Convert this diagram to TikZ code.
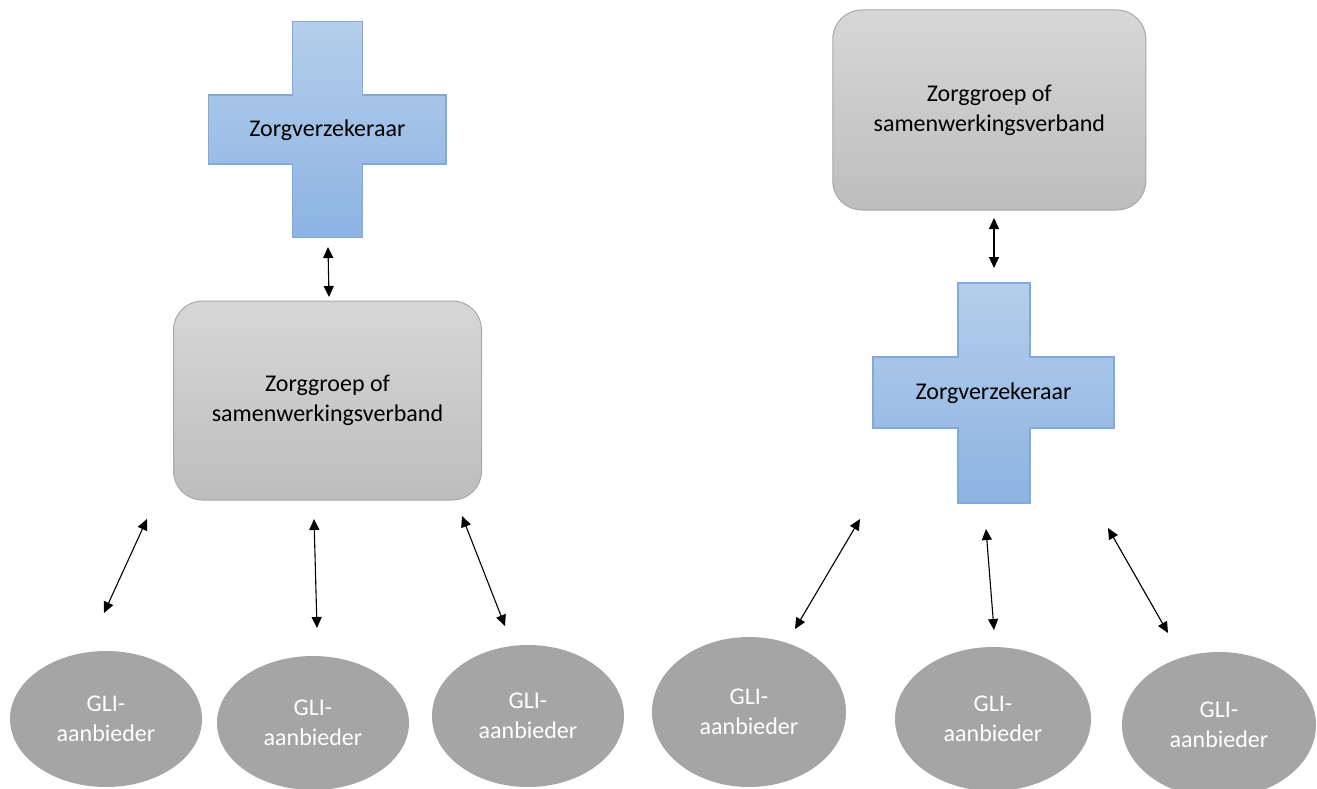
\documentclass[tikz,border=0pt]{standalone}
\usepackage{fontspec}
\setmainfont{Carlito}
\usetikzlibrary{arrows.meta,shapes.geometric}
\definecolor{crossTop}{HTML}{B4CEEB}
\definecolor{crossBot}{HTML}{8DB3E2}
\definecolor{crossLine}{HTML}{7FAADB}
\definecolor{boxTop}{HTML}{D7D7D7}
\definecolor{boxBot}{HTML}{BDBDBD}
\definecolor{boxLine}{HTML}{A8A8A8}
\definecolor{provGray}{HTML}{A5A5A5}
\begin{document}
\begin{tikzpicture}[x=1pt,y=-1pt,
  txt/.style={font=\fontsize{24}{30}\selectfont, align=center, inner sep=0pt},
  orgbox/.style={draw=boxLine, line width=1pt, top color=boxTop, bottom color=boxBot,
    rounded corners=29pt, minimum width=308pt, minimum height=199pt, txt},
  provider/.style={ellipse, fill=provGray, text=white, txt},
  crossfill/.style={top color=crossTop, bottom color=crossBot},
  crossedge/.style={draw=crossLine, line width=1.2pt, line join=miter},
  link/.style={{Triangle[length=11pt,width=10pt]}-{Triangle[length=11pt,width=10pt]}, line width=1.1pt}
]
\useasboundingbox (0,0) rectangle (1317,789);
\fill[white] (0,0) rectangle (1317,789);

% ---------- left cross ----------
\shade[crossfill] (292.3,21.7) -- (362.3,21.7) -- (362.3,95) -- (446,95) -- (446,164) -- (362.3,164) -- (362.3,237.7) -- (292.3,237.7) -- (292.3,164) -- (208.3,164) -- (208.3,95) -- (292.3,95) -- cycle;
\draw[crossedge] (292.3,21.7) -- (362.3,21.7) -- (362.3,95) -- (446,95) -- (446,164) -- (362.3,164) -- (362.3,237.7) -- (292.3,237.7) -- (292.3,164) -- (208.3,164) -- (208.3,95) -- (292.3,95) -- cycle;
\node[txt] (zvL) at (327.3,130) {Zorgverzekeraar};

% ---------- right cross ----------
\shade[crossfill] (958,283) -- (1030,283) -- (1030,357) -- (1114,357) -- (1114,428) -- (1030,428) -- (1030,503) -- (958,503) -- (958,428) -- (873,428) -- (873,357) -- (958,357) -- cycle;
\draw[crossedge] (958,283) -- (1030,283) -- (1030,357) -- (1114,357) -- (1114,428) -- (1030,428) -- (1030,503) -- (958,503) -- (958,428) -- (873,428) -- (873,357) -- (958,357) -- cycle;
\node[txt] (zvR) at (993.5,393) {Zorgverzekeraar};

% ---------- boxes ----------
\node[orgbox] (zgL) at (327.5,400.5) {Zorggroep of\\samenwerkingsverband};
\node[orgbox, minimum width=313pt, minimum height=200pt] (zgR) at (989.3,110) {Zorggroep of\\samenwerkingsverband};

% ---------- providers ----------
\node[provider, minimum width=192pt, minimum height=136pt] (p1) at (106,719) {GLI-\\aanbieder};
\node[provider, minimum width=192pt, minimum height=134pt] (p2) at (313,723) {GLI-\\aanbieder};
\node[provider, minimum width=192pt, minimum height=142pt] (p3) at (528,716) {GLI-\\aanbieder};
\node[provider, minimum width=194pt, minimum height=150pt] (p4) at (749,712) {GLI-\\aanbieder};
\node[provider, minimum width=196pt, minimum height=144pt] (p5) at (993,719) {GLI-\\aanbieder};
\node[provider, minimum width=194pt, minimum height=146pt] (p6) at (1219,725) {GLI-\\aanbieder};

% ---------- connector end points ----------
\coordinate (a0s) at (328,247);  \coordinate (a0e) at (329,297);
\coordinate (b0s) at (994,218);  \coordinate (b0e) at (994,268);
\coordinate (a1s) at (147,519);  \coordinate (a1e) at (104,613);
\coordinate (a2s) at (314,519);  \coordinate (a2e) at (317,628);
\coordinate (a3s) at (462,516);  \coordinate (a3e) at (505,626);
\coordinate (b1s) at (860,519);  \coordinate (b1e) at (795,629);
\coordinate (b2s) at (986,529);  \coordinate (b2e) at (994,630);
\coordinate (b3s) at (1108,528); \coordinate (b3e) at (1168,633);

\foreach \s/\e in {a0s/a0e,b0s/b0e,a1s/a1e,a2s/a2e,a3s/a3e,b1s/b1e,b2s/b2e,b3s/b3e}
  \draw[link] (\s) -- (\e);
\end{tikzpicture}
\end{document}
